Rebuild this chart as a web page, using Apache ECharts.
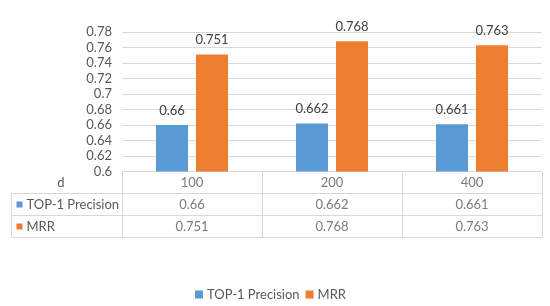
<!DOCTYPE html>
<html>
<head>
<meta charset="utf-8">
<script src="https://cdn.jsdelivr.net/npm/echarts@6/dist/echarts.min.js"></script>
<style>html,body{margin:0;padding:0;background:#fff}#c{width:550px;height:306px}</style>
</head>
<body>
<div id="c"></div>
<script>
const categories = ['100', '200', '400'];
const headerLabel = 'd';
const seriesNames = ['TOP-1 Precision', 'MRR'];
const top1Precision = [0.66, 0.662, 0.661];
const mrr = [0.751, 0.768, 0.763];
const yTicks = {min: 0.6, max: 0.78, interval: 0.02};
const colors = ['#5B9BD5', '#ED7D31'];

const FONT = 'Lato';
const TXT = '#595959';
const LINE = '#D9D9D9';

const seriesValues = [top1Precision, mrr];
const tableRows = [headerLabel].concat(seriesNames);
const cellData = [];
categories.forEach((c, i) => {
  cellData.push([i, 0, c]);
  seriesValues.forEach((vals, r) => cellData.push([i, r + 1, String(vals[i])]));
});

const chart = echarts.init(document.getElementById('c'), null, {renderer: 'canvas'});
chart.setOption({
  animation: false,
  textStyle: {fontFamily: FONT},
  grid: [
    {left: 122, right: 8, top: 32, height: 139.5},
    {left: 122, right: 8, top: 171.5, height: 66},
    {left: 11.5, width: 110.5, top: 193.5, height: 44}
  ],
  legend: {
    data: seriesNames,
    top: 283,
    left: 190,
    icon: 'rect',
    itemWidth: 8,
    itemHeight: 8,
    itemGap: 6,
    textStyle: {fontFamily: FONT, fontSize: 13, color: TXT, padding: [0, 0, 0, -1]}
  },
  xAxis: [
    {gridIndex: 0, type: 'category', data: categories,
      axisLabel: {show: false}, axisTick: {show: false},
      axisLine: {show: true, lineStyle: {color: LINE}}},
    {gridIndex: 1, type: 'category', data: categories,
      axisLabel: {show: false}, axisTick: {show: false},
      axisLine: {show: false},
      splitLine: {show: true, interval: 0, lineStyle: {color: LINE}}},
    {gridIndex: 2, type: 'category', data: [''],
      axisLabel: {show: false}, axisTick: {show: false},
      axisLine: {show: false},
      splitLine: {show: true, interval: 0, lineStyle: {color: LINE}}}
  ],
  yAxis: [
    {gridIndex: 0, type: 'value', min: yTicks.min, max: yTicks.max, interval: yTicks.interval,
      axisLine: {show: false}, axisTick: {show: false},
      axisLabel: {fontFamily: FONT, fontSize: 13, color: TXT, margin: 10},
      splitLine: {show: true, lineStyle: {color: LINE}}},
    {gridIndex: 1, type: 'category', data: tableRows, inverse: true,
      axisLine: {show: false}, axisTick: {show: false},
      axisLabel: {fontFamily: FONT, fontSize: 13, color: TXT, margin: 61, align: 'center',
        formatter: (v, i) => i === 0 ? v : ''},
      splitLine: {show: true, interval: 0, lineStyle: {color: LINE}}},
    {gridIndex: 2, type: 'category', data: seriesNames, inverse: true,
      axisLine: {show: false}, axisTick: {show: false},
      axisLabel: {inside: true, align: 'left', margin: 5, fontFamily: FONT, fontSize: 13, color: TXT,
        formatter: (v, i) => '{s' + i + '|}{t|' + v + '}',
        rich: {
          s0: {width: 6, height: 6, backgroundColor: colors[0]},
          s1: {width: 6, height: 6, backgroundColor: colors[1]},
          t: {fontFamily: FONT, fontSize: 13, color: TXT, padding: [0, 0, 0, 4]}
        }},
      splitLine: {show: true, interval: 0, lineStyle: {color: LINE}}}
  ],
  series: [
    {name: seriesNames[0], type: 'bar', xAxisIndex: 0, yAxisIndex: 0, data: top1Precision,
      barWidth: 32, barGap: '25%', itemStyle: {color: colors[0]},
      label: {show: true, position: 'top', distance: 8, fontFamily: FONT, fontSize: 13, color: '#404040'}},
    {name: seriesNames[1], type: 'bar', xAxisIndex: 0, yAxisIndex: 0, data: mrr,
      barWidth: 32, barGap: '25%', itemStyle: {color: colors[1]},
      label: {show: true, position: 'top', distance: 8, fontFamily: FONT, fontSize: 13, color: '#404040'}},
    {type: 'scatter', xAxisIndex: 1, yAxisIndex: 1, data: cellData, symbolSize: 0,
      silent: true,
      label: {show: true, position: 'inside', formatter: p => p.value[2],
        fontFamily: FONT, fontSize: 13, color: TXT}}
  ]
});
</script>
</body>
</html>
